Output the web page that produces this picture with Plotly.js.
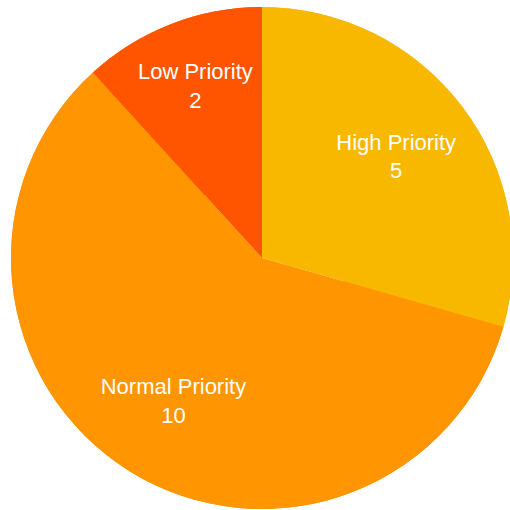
<!DOCTYPE html>
<html>
<head>
<meta charset="utf-8">
<script src="https://cdn.plot.ly/plotly-3.0.1.min.js"></script>
<style>html,body{margin:0;padding:0;overflow:hidden;background:#fff;}</style>
</head>
<body>
<div id="chart"></div>
<script>
var labels = ["High Priority", "Normal Priority", "Low Priority"];
var values = [5, 10, 2];
var colors = ["#F8B800", "#FF9500", "#FF5500"];

var base = {
  type: "pie",
  labels: labels,
  values: values,
  sort: false,
  direction: "clockwise",
  rotation: 0,
  marker: {colors: colors},
  hoverinfo: "label+value+percent",
  domain: {x: [0, 1], y: [0, 1]}
};

var fill = Object.assign({}, base, {textinfo: "none"});
var ring = Object.assign({}, base, {
  hole: 0.34,
  textinfo: "label+value",
  textposition: "inside",
  insidetextorientation: "horizontal",
  textfont: {family: "Liberation Sans, Arial, sans-serif", size: 22, color: "#ffffff"}
});

var layout = {
  width: 513,
  height: 510,
  margin: {l: 11, r: 0, t: 7, b: 1, pad: 0},
  showlegend: false,
  paper_bgcolor: "#ffffff"
};

Plotly.newPlot("chart", [fill, ring], layout, {displayModeBar: false, staticPlot: true});
</script>
</body>
</html>
